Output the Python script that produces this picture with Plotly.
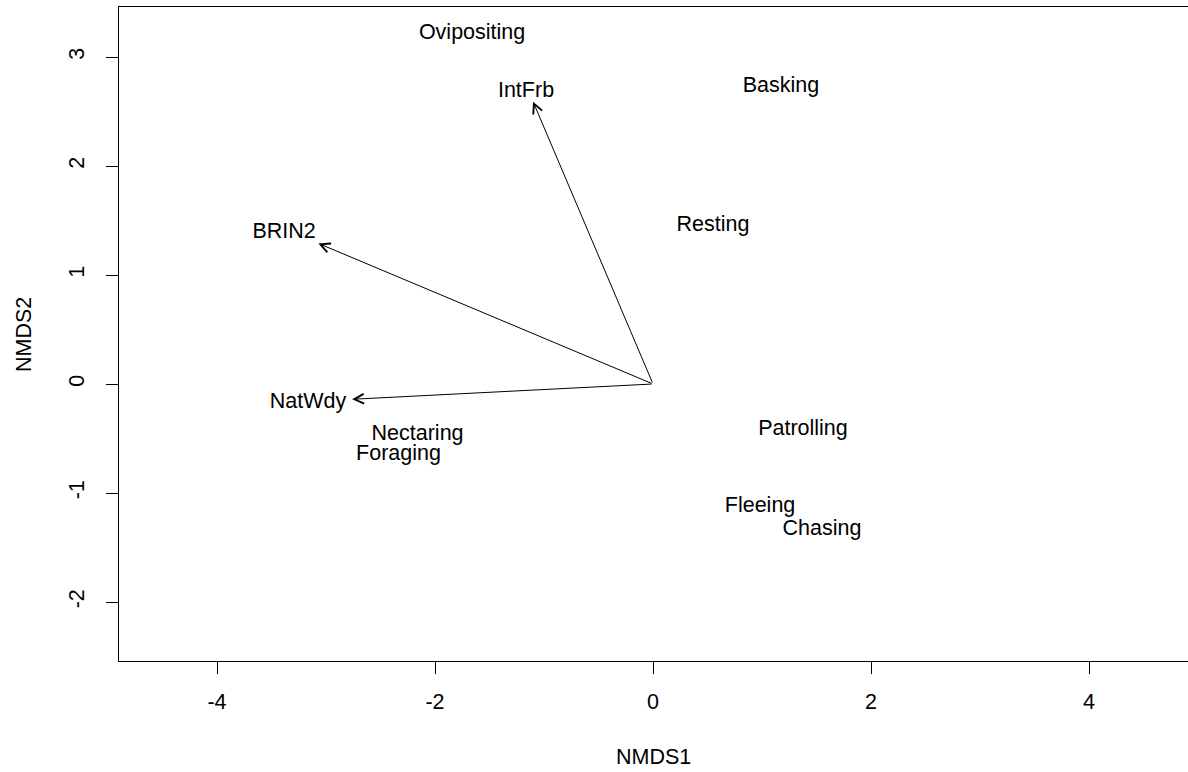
import plotly.graph_objects as go

# Behaviour scores (label positions)
behaviours = ["Ovipositing", "Basking", "Resting", "Nectaring", "Foraging",
              "Patrolling", "Fleeing", "Chasing"]
beh_x = [-1.66, 1.174, 0.55, -2.16, -2.335, 1.376, 0.982, 1.55]
beh_y = [3.212, 2.732, 1.45, -0.468, -0.651, -0.422, -1.128, -1.338]

# Environmental vectors
env_names = ["IntFrb", "BRIN2", "NatWdy"]
env_tip_x = [-1.10, -3.07, -2.76]
env_tip_y = [2.59, 1.29, -0.14]
env_lab_x = [-1.165, -3.385, -3.165]
env_lab_y = [2.682, 1.386, -0.174]

x_ticks = [-4, -2, 0, 2, 4]
x_ticktext = ["-4", "-2", "0", "2", "4"]
y_ticks = [-2, -1, 0, 1, 2, 3]
y_ticktext = ["-2", "-1", "0", "1", "2", "3"]

FONT = "Liberation Sans, Arial, sans-serif"
FS = 21.5

fig = go.Figure()

fig.add_trace(go.Scatter(
    x=beh_x, y=beh_y, text=behaviours, mode="text",
    textposition="middle center",
    textfont=dict(family=FONT, size=FS, color="#000000"),
    hoverinfo="text", showlegend=False))

fig.add_trace(go.Scatter(
    x=env_lab_x, y=env_lab_y, text=env_names, mode="text",
    textposition="middle center",
    textfont=dict(family=FONT, size=FS, color="#000000"),
    hoverinfo="text", showlegend=False))

for tx, ty in zip(env_tip_x, env_tip_y):
    fig.add_annotation(
        x=tx, y=ty, ax=0, ay=0, xref="x", yref="y", axref="x", ayref="y",
        text="", showarrow=True, arrowhead=5, arrowsize=1.9, arrowwidth=1,
        arrowcolor="#000000", standoff=0, startstandoff=0)

# Axis titles
fig.add_annotation(x=0, y=-0.1468, xref="x", yref="paper", text="NMDS1",
                   showarrow=False, xanchor="center", yanchor="middle",
                   font=dict(family=FONT, size=FS, color="#000000"))
fig.add_annotation(x=-0.0889, y=0.5, xref="paper", yref="paper",
                   text="NMDS2", textangle=-90, showarrow=False,
                   xanchor="center", yanchor="middle",
                   font=dict(family=FONT, size=FS, color="#000000"))

fig.update_layout(
    width=1188, height=772,
    margin=dict(l=119, r=0, t=7, b=111),
    plot_bgcolor="white", paper_bgcolor="white",
    showlegend=False,
    xaxis=dict(range=[-534 / 109, 535 / 109], tickvals=x_ticks, ticktext=x_ticktext,
               showgrid=False, zeroline=False, showline=True, mirror=True,
               linecolor="#000000", linewidth=1.3,
               ticks="outside", ticklen=12, tickwidth=1, tickcolor="#000000",
               ticklabelstandoff=9,
               tickfont=dict(family=FONT, size=FS, color="#000000")),
    yaxis=dict(range=[(384 - 661) / 109, (384 - 7) / 109], tickvals=y_ticks, ticktext=y_ticktext,
               showgrid=False, zeroline=False, showline=True, mirror=False,
               linecolor="#000000", linewidth=1.3,
               ticks="outside", ticklen=12, tickwidth=1, tickcolor="#000000",
               tickangle=-90, ticklabelstandoff=13,
               tickfont=dict(family=FONT, size=FS, color="#000000")),
)

fig.write_html("out.html", config={"displayModeBar": False})
with open("out.html", "r", encoding="utf-8") as f:
    html = f.read()
html = html.replace("<body>", '<body style="margin:0;padding:0;overflow:hidden">', 1)
with open("out.html", "w", encoding="utf-8") as f:
    f.write(html)
